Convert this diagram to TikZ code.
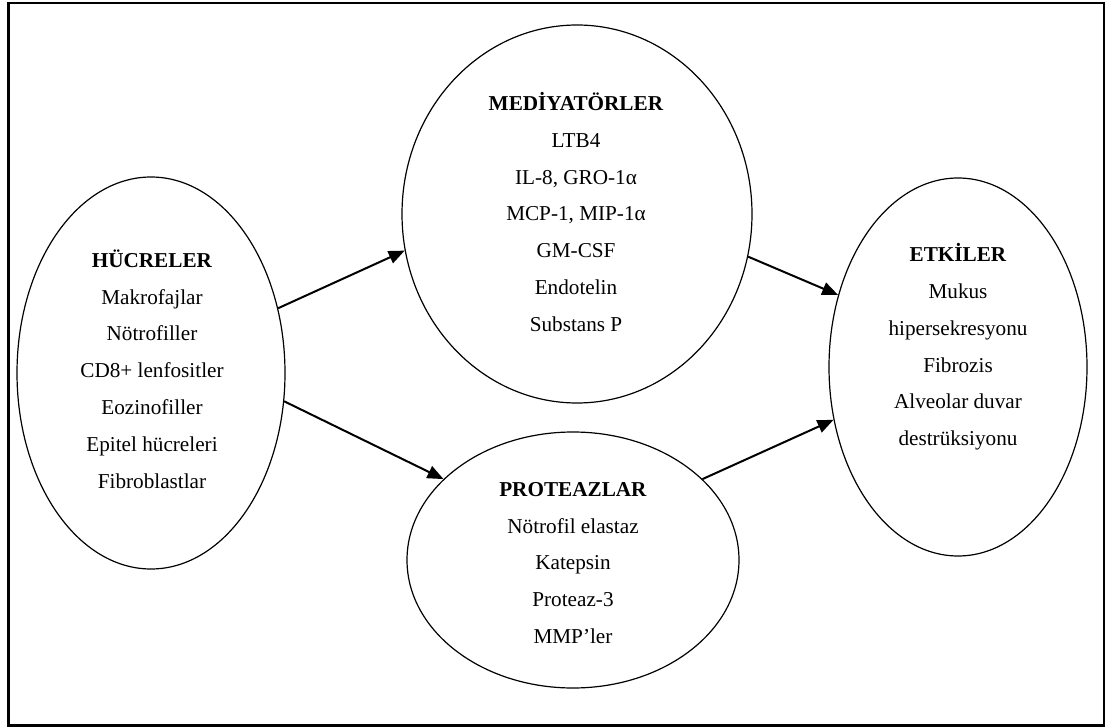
\documentclass[tikz,border=0pt]{standalone}
\usepackage{fontspec}
\setmainfont{Liberation Serif}
\usetikzlibrary{arrows.meta,shapes.geometric}
\begin{document}
\begin{tikzpicture}[x=1pt,y=-1pt,
  ell/.style={draw, line width=1.2pt, ellipse, inner sep=0pt},
  txt/.style={align=center, inner sep=0pt, font=\fontsize{21.2}{36.8}\selectfont},
  arr/.style={line width=2pt, -{Triangle[length=16pt,width=13pt]}},
  framebox/.style={draw, line width=2.3pt, inner sep=0pt}
]
\useasboundingbox (0,0) rectangle (1105,727);
\node[framebox, minimum width=1095.5pt, minimum height=722.5pt] (frame) at (556.25,364.25) {};

\node[ell, minimum width=268pt, minimum height=392pt] (cells) at (151,373) {};
\node[ell, minimum width=350pt, minimum height=378pt] (med) at (577,214) {};
\node[ell, minimum width=332pt, minimum height=256pt] (prot) at (573,560) {};
\node[ell, minimum width=258pt, minimum height=378pt] (eff) at (958,367) {};

\node[txt] (cellst) at (152,369) {\textbf{HÜCRELER}\\Makrofajlar\\Nötrofiller\\CD8+ lenfositler\\Eozinofiller\\Epitel hücreleri\\Fibroblastlar};
\node[txt] (medt) at (576,212) {\textbf{MEDİYATÖRLER}\\LTB4\\IL-8, GRO-1α\\MCP-1, MIP-1α\\GM-CSF\\Endotelin\\Substans P};
\node[txt] (prott) at (573,563) {\textbf{PROTEAZLAR}\\Nötrofil elastaz\\Katepsin\\Proteaz-3\\MMP’ler};
\node[txt] (efft) at (958,347) {\textbf{ETKİLER}\\Mukus\\hipersekresyonu\\Fibrozis\\Alveolar duvar\\destrüksiyonu};

\draw[arr] (cells.27.5) -- (med.192.8);
\draw[arr] (cells.-12.8) -- (prot.148);
\draw[arr] (med.-14.1) -- (eff.149.3);
\draw[arr] (prot.32.6) -- (eff.203.1);
\end{tikzpicture}
\end{document}
